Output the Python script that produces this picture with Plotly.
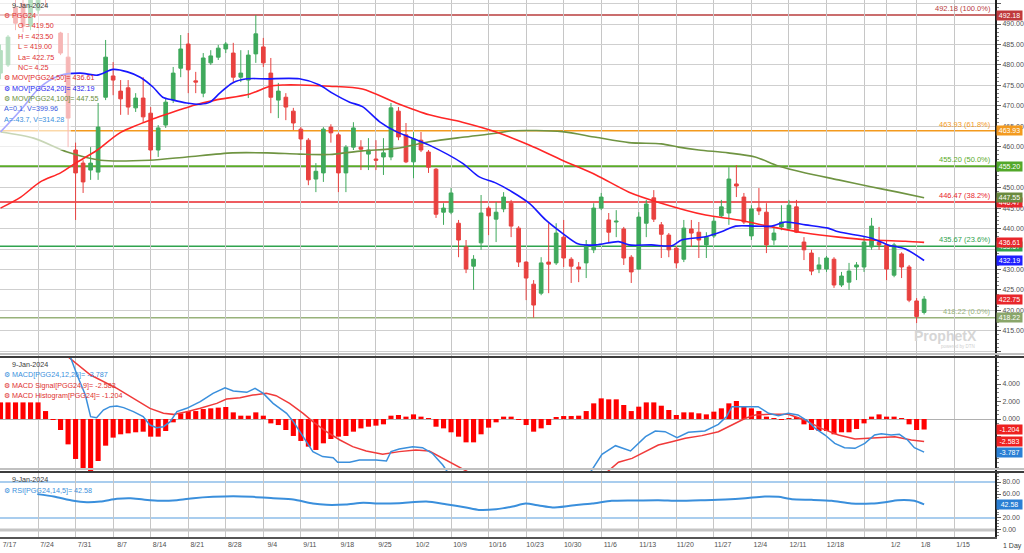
import plotly.graph_objects as go

# ---------------- data ----------------
slot = list(range(124))   # trading-day slots, 17-Jul-2023 .. 9-Jan-2024

opens = [478.0, 480.0, 494.0, 495.0, 489.5, 493.4, 499.0, 500.0, 487.8, 481.9,
         459.2, 456.0, 454.3, 453.8, 472.1, 477.3, 473.6, 474.4, 469.5, 471.9,
         468.2, 459.2, 465.3, 471.4, 479.2, 485.1, 476.1, 473.1, 480.5, 481.9,
         483.9, 482.9, 477.0, 476.3, 482.7, 484.4, 478.0, 471.4, 472.1, 468.7,
         464.3, 461.6, 452.1, 453.6, 464.8, 462.9, 453.6, 459.9, 459.9, 458.2,
         457.0, 457.5, 457.5, 468.7, 462.9, 456.3, 461.6, 458.7, 454.5, 444.0,
         444.0, 441.3, 435.5, 430.8, 436.5, 445.0, 442.3, 444.8, 446.2, 440.1,
         431.8, 426.4, 424.2, 431.8, 431.6, 437.9, 432.5, 430.6, 431.6, 434.8,
         445.0, 442.1, 441.6, 439.9, 433.0, 430.1, 441.3, 447.5, 440.9, 438.4,
         435.2, 432.5, 439.9, 439.1, 436.0, 438.2, 443.1, 443.8, 450.9, 447.7,
         438.2, 445.0, 444.0, 437.2, 440.4, 440.1, 445.3, 436.7, 434.0, 430.1,
         430.1, 432.5, 426.2, 426.9, 430.6, 430.6, 435.5, 436.7, 436.0, 428.6,
         433.8, 430.6, 422.3, 419.5]
highs = [485.0, 487.3, 497.0, 498.0, 498.0, 500.0, 501.0, 502.0, 488.1, 487.8,
         461.0, 456.7, 459.9, 470.7, 486.1, 480.7, 476.3, 476.3, 473.1, 477.0,
         469.7, 465.3, 471.9, 479.5, 487.3, 487.8, 478.3, 482.9, 483.6, 484.9,
         485.6, 485.4, 483.6, 483.6, 492.18, 486.6, 481.7, 475.6, 473.1, 469.5,
         464.8, 462.1, 456.0, 464.8, 465.5, 463.4, 460.4, 466.0, 461.6, 462.1,
         461.6, 462.1, 470.7, 469.7, 465.8, 463.6, 463.6, 459.2, 454.8, 446.2,
         449.9, 442.1, 437.2, 433.5, 448.2, 445.5, 446.5, 448.9, 447.0, 440.6,
         432.0, 427.4, 433.0, 441.3, 441.3, 442.1, 433.0, 431.8, 437.2, 446.2,
         448.7, 443.8, 444.5, 440.4, 433.5, 444.0, 447.0, 449.4, 441.6, 438.9,
         435.7, 442.1, 442.1, 441.6, 439.1, 442.8, 447.0, 455.0, 455.5, 448.7,
         445.7, 449.9, 446.2, 440.9, 445.7, 447.0, 447.0, 437.9, 434.8, 433.0,
         433.3, 433.0, 429.4, 431.6, 431.8, 437.9, 442.6, 440.4, 437.2, 436.5,
         434.2, 431.1, 423.0, 423.5]
lows = [476.5, 479.5, 488.5, 488.0, 488.5, 492.5, 494.0, 496.5, 482.4, 459.9,
        442.1, 448.7, 451.9, 451.9, 471.4, 472.6, 467.8, 467.8, 468.5, 465.8,
        456.7, 457.5, 464.6, 470.7, 477.0, 473.1, 473.1, 472.1, 480.0, 481.2,
        482.9, 475.8, 475.8, 471.9, 480.5, 479.5, 468.2, 467.0, 466.5, 464.1,
        459.2, 450.6, 448.9, 451.4, 461.0, 448.9, 448.9, 459.2, 454.3, 454.3,
        454.3, 453.1, 456.7, 461.6, 456.0, 452.3, 458.7, 453.6, 442.6, 440.9,
        443.5, 433.0, 429.1, 425.0, 434.8, 438.4, 436.7, 444.0, 437.9, 430.6,
        422.5, 418.22, 423.7, 424.2, 431.1, 430.6, 426.7, 426.9, 427.9, 434.0,
        444.5, 436.7, 437.9, 431.1, 426.7, 429.9, 437.9, 441.6, 432.8, 433.0,
        430.3, 431.8, 435.5, 432.8, 432.8, 437.7, 442.6, 440.9, 447.7, 441.1,
        437.2, 443.3, 434.0, 436.0, 439.6, 439.6, 438.9, 432.3, 428.6, 429.1,
        429.4, 425.5, 425.7, 425.0, 427.4, 429.4, 434.8, 434.8, 427.4, 428.1,
        427.9, 422.0, 416.9, 419.0]
closes = [483.5, 486.8, 490.2, 489.5, 496.5, 498.5, 496.5, 497.0, 482.9, 467.0,
          453.6, 451.4, 456.0, 464.8, 481.9, 476.3, 471.7, 469.7, 471.9, 467.3,
          459.2, 464.6, 470.9, 478.0, 483.9, 478.8, 475.8, 481.7, 482.2, 484.1,
          485.1, 477.0, 478.0, 482.4, 487.6, 480.5, 472.1, 473.6, 469.7, 465.8,
          461.9, 451.9, 454.0, 464.3, 463.4, 453.6, 459.9, 464.6, 459.4, 459.2,
          456.7, 458.5, 469.5, 462.4, 456.3, 461.9, 459.2, 455.0, 443.5, 445.0,
          448.7, 437.2, 430.1, 432.5, 443.8, 443.1, 444.0, 447.7, 440.6, 431.8,
          427.9, 421.3, 431.6, 431.3, 438.9, 432.8, 430.8, 430.1, 436.0, 445.0,
          447.7, 439.1, 441.8, 432.8, 429.4, 442.8, 446.0, 442.3, 438.6, 434.8,
          431.6, 440.1, 438.9, 437.2, 437.9, 441.8, 445.3, 452.1, 450.4, 441.6,
          444.8, 444.3, 436.0, 438.9, 441.6, 445.7, 439.1, 434.8, 429.6, 431.1,
          432.8, 426.2, 428.4, 429.6, 431.1, 436.7, 440.6, 436.0, 430.1, 436.0,
          430.6, 422.5, 418.5, 422.75]

ma20_x = [0, 2.7, 5.3, 8.0, 10.6, 12.9, 15.0, 16.9, 18.6, 20.3, 21.6, 23.0, 24.8, 26.6,
          27.9, 29.2, 30.9, 32.8, 35.5, 39.8, 42.5, 44.2, 46.5, 48.2, 50.5, 52.7, 57.1,
          61.5, 63.7, 66.0, 68.1, 70.4, 72.6, 74.8, 77.0, 79.3, 82.3, 83.7, 86.7, 89.4,
          90.7, 93.9, 96.0, 97.9, 100.5, 102.7, 104.5, 107.2, 110.2, 111.6, 115.9, 118.2,
          120.5, 123]
ma20_y = [463.6, 469.0, 474.6, 477.5, 478.0, 477.5, 478.9, 478.3, 477.0, 474.6, 472.1, 471.4,
          470.7, 470.4, 470.9, 473.1, 475.6, 476.6, 476.6, 476.6, 475.1, 473.1, 470.9, 469.8,
          466.1, 463.7, 460.4, 456.0, 452.7, 451.1, 449.0, 446.2, 442.1, 438.9, 436.2, 436.0,
          436.8, 436.0, 436.0, 435.8, 437.2, 438.0, 439.2, 440.6, 440.6, 440.6, 441.6, 440.9,
          440.1, 439.2, 437.7, 436.0, 435.0, 432.19]
ma50_x = [0, 2.7, 5.3, 8.0, 10.0, 12.9, 15.9, 19.9, 21.9, 25.9, 28.6, 33.2, 35.9, 37.8, 39.8,
          43.8, 48.2, 52.7, 57.1, 61.5, 66.0, 70.4, 74.8, 79.3, 83.7, 88.0, 93.9, 98.3, 102.7,
          107.2, 111.6, 115.9, 120.5, 123]
ma50_y = [445.0, 447.7, 451.4, 453.6, 456.0, 459.2, 463.4, 466.5, 467.8, 470.2, 471.4, 472.9,
          474.8, 475.1, 475.1, 474.8, 474.1, 470.7, 467.8, 466.0, 463.6, 460.4, 456.7, 453.1,
          448.9, 446.2, 443.3, 442.1, 440.4, 438.9, 437.9, 437.2, 436.9, 436.61]
ma100_x = [0, 4.4, 8.9, 13.3, 19.9, 24.8, 30.9, 35.5, 39.8, 43.8, 48.2, 52.7, 57.1, 61.5, 66.0,
           68.1, 74.8, 79.3, 83.7, 88.0, 90.3, 93.0, 96.9, 100.5, 103.6, 107.2, 111.6, 115.9,
           119.5, 123]
ma100_y = [463.6, 462.1, 458.7, 456.7, 456.7, 457.5, 458.5, 458.5, 458.2, 458.1, 459.0, 459.6,
           461.2, 462.3, 463.3, 463.9, 463.7, 462.3, 461.0, 460.7, 459.9, 459.2, 458.5, 457.5,
           455.3, 453.6, 451.9, 450.2, 448.9, 447.55]

fib_levels = [492.18, 463.93, 455.20, 446.47, 435.67, 418.22]
fib_pcts = ["100.0%", "61.8%", "50.0%", "38.2%", "23.6%", "0.0%"]

macd_hist = [1.90, 1.90, 1.90, 1.90, 1.90, 1.90, 0.91, -0.11, -1.26, -2.90,
             -4.57, -5.64, -5.94, -4.80, -3.05, -2.13, -1.75, -1.64, -1.52, -1.45,
             -2.02, -2.02, -1.37, -0.38, 0.65, 0.91, 0.91, 1.14, 1.22, 1.30,
             1.37, 0.76, 0.38, 0.38, 0.76, 0.38, -0.50, -0.69, -1.26, -1.94,
             -2.51, -3.16, -3.54, -2.78, -2.29, -2.02, -1.94, -1.45, -1.07, -0.88,
             -0.76, -0.61, 0.38, 0.46, 0.27, 0.53, 0.27, 0.08, -0.88, -1.07,
             -1.52, -2.02, -2.67, -2.67, -1.75, -0.99, -0.38, 0.27, 0.27, -0.05,
             -0.69, -1.45, -1.07, -0.69, 0.19, 0.34, 0.34, 0.38, 0.91, 1.79,
             2.36, 2.25, 2.25, 1.60, 0.91, 1.41, 1.90, 1.90, 1.52, 1.03,
             0.46, 0.76, 0.76, 0.65, 0.53, 0.84, 1.22, 1.79, 2.06, 1.41,
             1.22, 0.91, 0.27, 0.08, -0.05, 0.08, 0.15, -0.61, -1.26, -1.37,
             -1.37, -1.75, -1.52, -1.52, -1.14, -0.50, 0.27, 0.53, 0.27, 0.27,
             0.08, -0.61, -1.26, -1.204]
macd_x = [9.0, 10.2, 11.3, 12.0, 12.8, 13.7, 14.6, 15.5, 16.4, 17.7, 19.0, 19.9, 20.8, 21.7,
          22.6, 23.5, 24.8, 26.6, 28.3, 29.9, 31.0, 32.8, 33.9, 35.0, 36.3, 38.1, 39.0, 40.3,
          41.6, 42.9, 44.3, 44.9, 46.5, 47.8, 50.0, 51.4, 52.0, 53.1, 54.9, 56.2, 57.5, 58.9,
          59.5, 61.0, 70.0, 77.5, 78.6, 80.1, 81.9, 83.9, 85.9, 87.2, 88.5, 90.1, 91.6, 93.8,
          95.6, 96.7, 97.4, 99.2, 100.9, 102.3, 103.6, 104.9, 106.2, 107.6, 108.5, 109.8,
          111.1, 112.4, 113.8, 115.1, 116.4, 117.3, 118.6, 119.7, 120.8, 121.7, 123]
macd_y = [7.8, 5.03, 2.74, 0.27, 0.15, 1.03, 1.41, 1.49, 1.30, 0.84, 0.27, -0.69, -0.99, -0.88,
          -0.30, 0.84, 1.22, 1.98, 2.93, 3.58, 3.20, 3.05, 3.50, 2.93, 1.79, 0.65, -0.30, -2.02,
          -3.73, -4.30, -4.42, -4.95, -4.95, -4.69, -4.69, -4.80, -3.73, -3.43, -3.16, -3.28,
          -3.92, -5.26, -6.02, -7.5, -9.0, -7.5, -6.02, -4.04, -3.05, -3.66, -2.02, -1.37,
          -1.45, -2.13, -1.52, -1.37, -0.61, 0.27, 1.41, 1.41, 1.41, 0.65, 0.38, 0.65, 0.46,
          -0.30, -1.07, -1.83, -2.78, -3.28, -3.35, -2.78, -1.83, -1.68, -1.83, -1.75, -2.40,
          -3.28, -3.787]
sig_x = [8.0, 12.0, 15.5, 17.7, 19.9, 21.7, 23.0, 24.8, 26.6, 28.8, 30.1, 31.9, 33.6, 35.4,
         36.7, 38.5, 40.3, 41.6, 43.4, 45.2, 46.9, 48.7, 50.9, 53.1, 55.3, 57.1, 58.9, 61.1,
         62.2, 64.0, 72.0, 79.5, 80.8, 82.3, 84.1, 85.9, 87.6, 89.4, 91.2, 93.4, 95.6, 97.4,
         99.2, 100.5, 102.3, 104.9, 107.1, 109.3, 111.6, 113.8, 116.0, 119.1, 121.3, 123]
sig_y = [7.8, 5.03, 3.50, 2.36, 1.22, 0.65, 0.53, 0.84, 1.22, 1.79, 2.29, 2.44, 2.74, 2.93,
         2.67, 1.79, 0.65, -0.30, -1.45, -2.40, -3.16, -3.66, -4.04, -3.73, -3.54, -3.66,
         -4.50, -5.45, -6.02, -7.0, -8.0, -7.0, -6.02, -4.95, -4.50, -3.73, -2.97, -2.59,
         -2.21, -1.90, -1.45, -0.69, 0.08, 0.46, 0.53, 0.53, -0.11, -1.07, -1.83, -2.29,
         -2.21, -2.02, -2.40, -2.583]

rsi_x = [4.9, 7.1, 9.7, 11.5, 13.3, 15.5, 17.3, 19.0, 21.2, 23.5, 25.7, 28.3, 31.0, 33.6,
         36.3, 39.0, 41.6, 43.4, 46.0, 48.3, 50.5, 53.1, 56.7, 59.3, 62.0, 63.7, 66.0, 68.2,
         69.9, 71.7, 73.5, 76.1, 78.8, 81.4, 84.1, 87.6, 90.3, 93.8, 96.5, 99.2, 101.8, 103.6,
         105.4, 108.0, 110.7, 113.3, 116.0, 117.8, 119.5, 121.7, 123]
rsi_y = [59.8, 55.9, 48.6, 46.4, 47.5, 52.0, 53.0, 50.8, 48.6, 49.7, 53.0, 55.3, 56.4, 55.3,
         53.0, 50.8, 44.1, 41.9, 42.5, 45.3, 44.1, 44.7, 47.5, 43.0, 37.4, 33.5, 34.6, 39.1,
         44.1, 40.8, 37.4, 40.8, 44.1, 48.6, 49.2, 49.7, 48.6, 49.7, 50.8, 53.0, 55.9, 55.3,
         51.4, 50.3, 48.6, 44.1, 44.1, 46.4, 49.7, 48.6, 42.58]

tick_slots = [0, 5, 10, 15, 20, 25, 30, 35, 40, 45, 50, 55, 60, 65, 70, 75, 80, 85, 90, 95,
              100, 105, 110, 115, 118, 122, 127]
tick_labels = ["7/17", "7/24", "7/31", "8/7", "8/14", "8/21", "8/28", "9/4", "9/11", "9/18",
               "9/25", "10/2", "10/9", "10/16", "10/23", "10/30", "11/6", "11/13", "11/20",
               "11/27", "12/4", "12/11", "12/18", "", "1/2", "1/8", "1/15"]

# ---------------- styling ----------------
FONT = "Liberation Sans, Arial, sans-serif"
UP = "#3fa95c"
DN = "#e8413f"
C_MA20 = "#1717ff"
C_MA50 = "#ff2626"
C_MA100 = "#6f9442"
C_MACD = "#3a8fdc"
C_SIG = "#f03a3a"
fib_colors = ["#b83c3c", "#f39a1e", "#5aab28", "#e8262b", "#2fa34e", "#98b27a"]
fib_widths = [1.5, 1.5, 2, 1.5, 1.5, 1.5]

PW, PH = 997.0, 537.0
def xp(px):
    return px / PW
def yp(py):
    return 1 - py / PH

fig = go.Figure()

fig.add_trace(go.Candlestick(
    x=slot, open=opens, high=highs, low=lows, close=closes,
    increasing=dict(line=dict(color=UP, width=1), fillcolor=UP),
    decreasing=dict(line=dict(color=DN, width=1), fillcolor=DN),
    whiskerwidth=0, xaxis="x", yaxis="y", showlegend=False, hoverinfo="skip"))

for xs, ys, c in [(ma100_x, ma100_y, C_MA100), (ma50_x, ma50_y, C_MA50), (ma20_x, ma20_y, C_MA20)]:
    fig.add_trace(go.Scatter(x=xs, y=ys, mode="lines", line=dict(color=c, width=1.6, shape="spline", smoothing=0.8),
                             xaxis="x", yaxis="y", showlegend=False, hoverinfo="skip"))

fig.add_trace(go.Bar(x=slot, y=macd_hist, marker=dict(color="#ff0000", line=dict(width=0)), width=0.68,
                     xaxis="x", yaxis="y2", showlegend=False, hoverinfo="skip"))
fig.add_trace(go.Scatter(x=sig_x, y=sig_y, mode="lines", line=dict(color=C_SIG, width=1.5),
                         xaxis="x", yaxis="y2", showlegend=False, hoverinfo="skip"))
fig.add_trace(go.Scatter(x=macd_x, y=macd_y, mode="lines", line=dict(color=C_MACD, width=1.5),
                         xaxis="x", yaxis="y2", showlegend=False, hoverinfo="skip"))
fig.add_trace(go.Scatter(x=rsi_x, y=rsi_y, mode="lines", line=dict(color=C_MACD, width=2, shape="spline", smoothing=0.6),
                         xaxis="x", yaxis="y3", showlegend=False, hoverinfo="skip"))

shapes = []
for lvl, c, w in zip(fib_levels, fib_colors, fib_widths):
    shapes.append(dict(type="line", xref="paper", x0=0, x1=1, yref="y", y0=lvl, y1=lvl,
                       line=dict(color=c, width=w), layer="between"))
# RSI guide lines
for lvl, c, w in [(80, "#a9cdee", 2), (20, "#a9cdee", 2), (0, "#c4c4c4", 3)]:
    shapes.append(dict(type="line", xref="paper", x0=0, x1=1, yref="y3", y0=lvl, y1=lvl,
                       line=dict(color=c, width=w), layer="between"))
# panel separators
for py in (357, 472):
    shapes.append(dict(type="line", xref="paper", x0=0, x1=1.03, yref="paper", y0=yp(py - 3), y1=yp(py - 3),
                       line=dict(color="#c0c0c0", width=2), layer="above"))
    shapes.append(dict(type="line", xref="paper", x0=0, x1=1.03, yref="paper", y0=yp(py), y1=yp(py),
                       line=dict(color="#3c3c3c", width=2), layer="above"))
# faded legend background
shapes.append(dict(type="rect", xref="paper", yref="paper", x0=0, x1=xp(71), y0=yp(150), y1=1,
                   fillcolor="rgba(255,255,255,0.62)", line=dict(width=0), layer="above"))

ann = []
def txt(px, py, s, color, size=7.2, anchor="left"):
    ann.append(dict(x=xp(px), y=yp(py), xref="paper", yref="paper", text=s, showarrow=False,
                    xanchor=anchor, yanchor="middle", font=dict(family=FONT, size=size, color=color)))

ICON = "\u2699"
txt(10, 5, "9-Jan-2024", "#3a3a3a")
txt(2, 16, ICON + " PGG24", "#e03030")
for i, s in enumerate(["O = 419.50", "H = 423.50", "L = 419.00", "La= 422.75", "NC= 4.25"]):
    txt(16, 26 + i * 10.4, s, "#e03030")
txt(2, 78, ICON + " MOV[PGG24,50]= 436.61", "#e02828")
txt(2, 88.5, ICON + " MOV[PGG24,20]= 432.19", "#2424f0")
txt(2, 99, ICON + " MOV[PGG24,100]= 447.55", "#6a8e3a")
txt(2, 109, "A=0.1, V=399.96", "#3858e0")
txt(2, 119.5, "A=-43.7, V=314.28", "#3a8fdc")

txt(10, 364, "9-Jan-2024", "#3a3a3a")
txt(2, 374.5, ICON + " MACD[PGG24,12,26]= -3.787", C_MACD)
txt(2, 385, ICON + " MACD Signal[PGG24,9]= -2.583", "#e03030")
txt(2, 395.5, ICON + " MACD Histogram[PGG24]= -1.204", "#e03030")
txt(10, 480, "9-Jan-2024", "#3a3a3a")
txt(2, 490.5, ICON + " RSI[PGG24,14,5]= 42.58", C_MACD)

# fib labels
for lvl, pct, c in zip(fib_levels, fib_pcts, fib_colors):
    ann.append(dict(x=xp(995), y=lvl, xref="paper", yref="y", text=f"{lvl:.2f} ({pct})", showarrow=False,
                    xanchor="right", yanchor="bottom", yshift=0,
                    font=dict(family=FONT, size=7.5, color=c)))

# watermark
txt(947, 336, "<b>ProphetX</b>", "#d6d6d6", size=14, anchor="center")
txt(960, 346, "powered by DTN", "#d0d0d0", size=4.5, anchor="center")

# right-edge value boxes
def vbox(val, axis, s, bg):
    ann.append(dict(x=1, y=val, xref="paper", yref=axis, text=s, showarrow=False, xanchor="left",
                    yanchor="middle", xshift=1, bgcolor=bg, borderpad=1, width=23,
                    font=dict(family=FONT, size=7, color="white")))

vbox(492.18, "y", "492.18", "#c0393b")
vbox(463.93, "y", "463.93", "#f39a1e")
vbox(455.20, "y", "455.20", "#52a82a")
vbox(446.47, "y", "446.47", "#e8262b")
vbox(447.55, "y", "447.55", "#6a8a3e")
vbox(435.67, "y", "435.67", "#2fa34e")
vbox(436.61, "y", "436.61", "#e8262b")
vbox(432.19, "y", "432.19", "#1f1fff")
vbox(422.75, "y", "422.75", "#e8262b")
vbox(418.22, "y", "418.22", "#8aa66a")
vbox(-1.204, "y2", "-1.204", "#ee2020")
vbox(-2.583, "y2", "-2.583", "#ee2020")
vbox(-3.787, "y2", "-3.787", "#2a7fd4")
vbox(42.58, "y3", "42.58", "#2a7fd4")

ann.append(dict(x=1, y=yp(546), xref="paper", yref="paper", text="1 Day", showarrow=False, xanchor="left",
                yanchor="middle", xshift=6, font=dict(family=FONT, size=7, color="#404040")))

# tick labels fully covered by value boxes are left blank
main_ticks = list(range(410, 500, 5))
main_text = ["" if v in (410, 495, 455, 435) else f"{v:.2f}" for v in main_ticks]
axis_font = dict(family=FONT, size=7, color="#505050")

def yax(domain, rng, tv, tt, grid):
    return dict(domain=domain, range=rng, side="right", anchor="x", tickmode="array", tickvals=tv,
                ticktext=tt, showgrid=grid, gridcolor="#cfcfcf", gridwidth=1, zeroline=False,
                showline=True, linecolor="#202020", linewidth=2, ticks="outside", ticklen=4,
                tickcolor="#606060", tickfont=axis_font, fixedrange=True)

h1 = (537 - 357) / 537.0
h2 = (537 - 472) / 537.0
y1 = yax([h1, 1], [408.6, 495.87], main_ticks, main_text, True)
y1["minor"] = dict(tickmode="linear", tick0=0, dtick=1, ticks="outside", ticklen=2, tickcolor="#808080", showgrid=False)
macd_ticks = [-4, -2, 0, 2, 4]
y2 = yax([h2, h1], [-6.06, 7.09], macd_ticks, ["" if v < 0 else f"{v:.3f}" for v in macd_ticks], False)
y2["zeroline"] = True
y2["zerolinecolor"] = "#b0b0b0"
y2["zerolinewidth"] = 1
y2["minor"] = dict(tickmode="linear", tick0=0, dtick=0.5, ticks="outside", ticklen=2, tickcolor="#808080", showgrid=False)
rsi_ticks = [0, 20, 40, 60, 80]
y3 = yax([0, h2], [-11.7, 96.7], rsi_ticks, ["" if v == 40 else f"{v:.2f}" for v in rsi_ticks], False)
y3["minor"] = dict(tickmode="linear", tick0=0, dtick=5, ticks="outside", ticklen=2, tickcolor="#808080", showgrid=False)

fig.update_layout(
    width=1024, height=553, autosize=False,
    margin=dict(l=0, r=27, t=0, b=16, pad=0),
    paper_bgcolor="white", plot_bgcolor="white",
    showlegend=False, hovermode=False,
    xaxis=dict(domain=[0, 1], range=[-0.066, 132.44], anchor="y3", tickmode="array",
               tickvals=tick_slots, ticktext=tick_labels, showgrid=True, gridcolor="#c6c6c6",
               gridwidth=1, zeroline=False, showline=True, linecolor="#555555", linewidth=1.5,
               ticks="", tickfont=axis_font, ticklabelshift=9, rangeslider=dict(visible=False),
               fixedrange=True),
    yaxis=y1, yaxis2=y2, yaxis3=y3,
    shapes=shapes, annotations=ann,
)

fig.write_html("out.html")
